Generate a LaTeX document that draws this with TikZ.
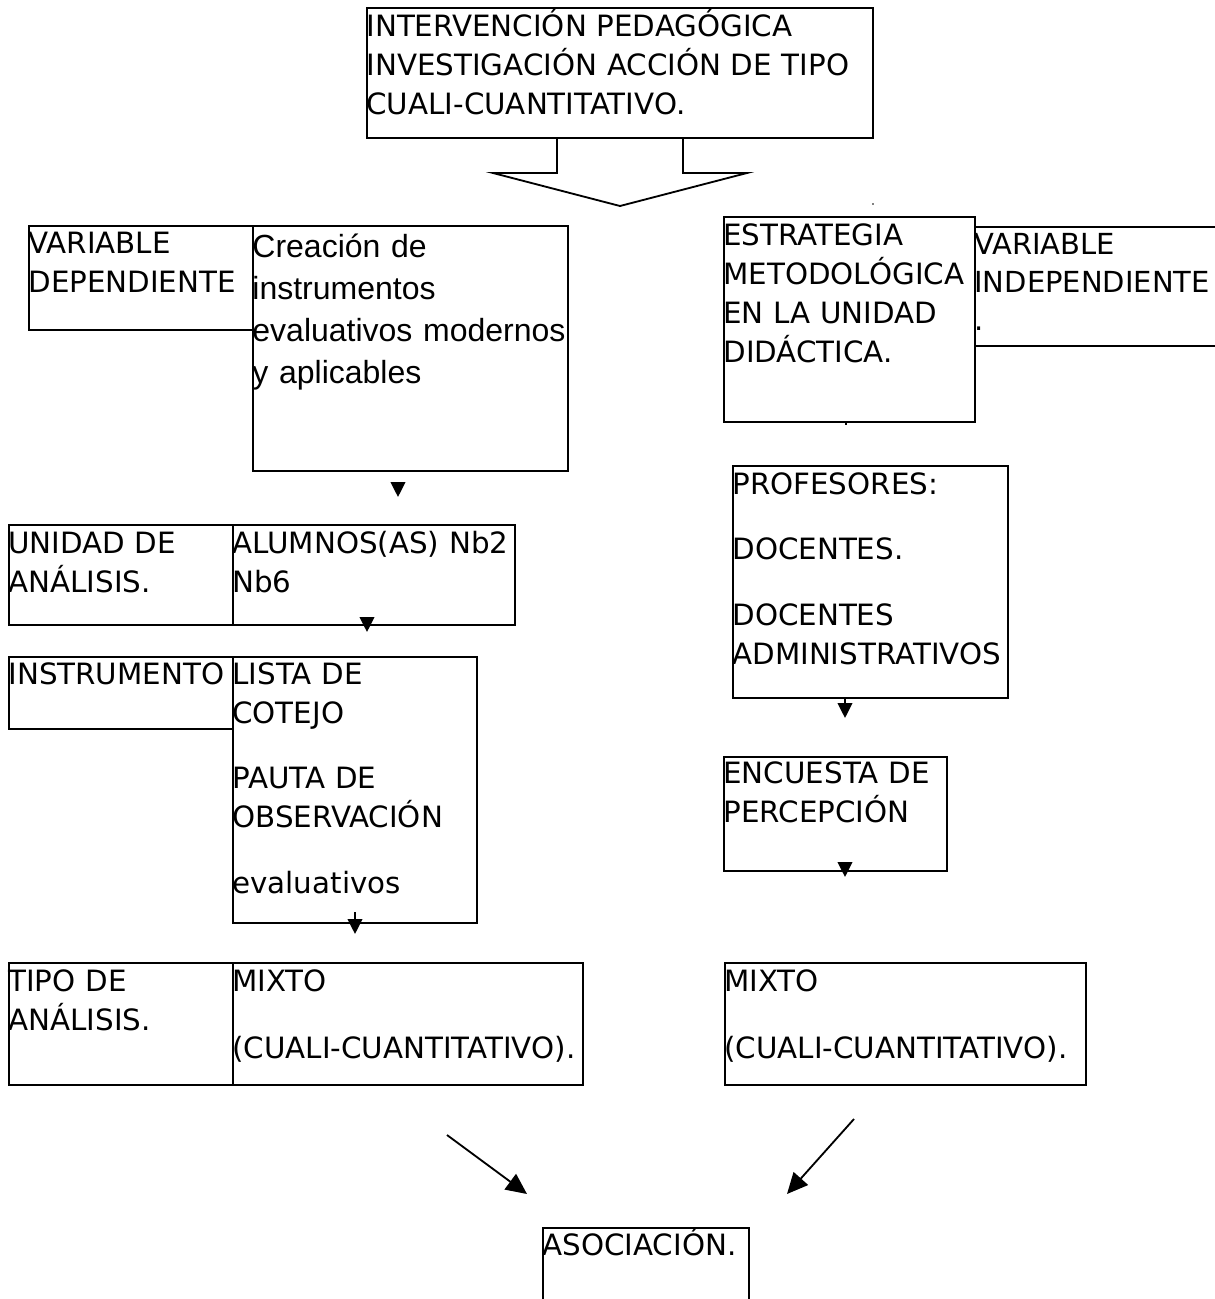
\documentclass[tikz,border=0pt]{standalone}
\usepackage{fontspec}
\setmainfont{DejaVu Sans}
\newfontfamily\arialfont{Liberation Sans}
\usetikzlibrary{arrows.meta,calc,fit}

\begin{document}
\begin{tikzpicture}[x=0.6pt,y=-0.6pt,
    caja/.style={draw,line width=1.1pt,inner sep=0pt},
    texto/.style={anchor=base west,inner sep=0pt,text width=20cm,align=left,
      font=\fontsize{17.6}{23.4}\selectfont},
    flecha/.style={line width=1.1pt,-{Triangle[length=9pt,width=8.8pt]}},
    diagonal/.style={line width=1.1pt,-{Triangle[length=12.5pt,width=11.5pt]}}]
    \useasboundingbox (0,0) rectangle (1214,1299);

    \node (intervencion) [caja, fit={(367,8) (873,138)}] {};
    \node (t-intervencion) [texto] at ($(intervencion.north west)+(0,29)$)
      {INTERVENCIÓN PEDAGÓGICA\\INVESTIGACIÓN ACCIÓN DE TIPO\\CUALI-CUANTITATIVO.};
    \draw[line width=1.1pt] (557,138) -- (557,173) -- (493,173) -- (620,206)
      -- (747,173) -- (683,173) -- (683,138);
    \fill (873,204) circle (0.8);

    \node (vardep) [caja, fit={(29,226) (253,330)}] {};
    \node (creacion) [caja, fit={(253,226) (568,471)}] {};
    \node (t-vardep) [texto] at ($(vardep.north west)+(0,28)$) {VARIABLE\\DEPENDIENTE};
    \node (t-creacion) [texto, font=\arialfont\fontsize{19.2}{25.2}\selectfont]
      at ($(creacion.north west)+(0,32)$)
      {Creación de\\instrumentos\\evaluativos modernos\\y aplicables};

    \node (unidad) [caja, fit={(9,525) (233,625)}] {};
    \node (alumnos) [caja, fit={(233,525) (515,625)}] {};
    \node (t-unidad) [texto] at ($(unidad.north west)+(0,29)$) {UNIDAD DE\\ANÁLISIS.};
    \node (t-alumnos) [texto] at ($(alumnos.north west)+(0,29)$) {ALUMNOS(AS) Nb2\\Nb6};

    \node (instrumento) [caja, fit={(9,657) (233,729)}] {};
    \node (lista) [caja, fit={(233,657) (477,923)}] {};
    \node (t-instrumento) [texto] at ($(instrumento.north west)+(0,28)$) {INSTRUMENTO};
    \node (t-lista) [texto] at ($(lista.north west)+(0,28)$)
      {LISTA DE\\COTEJO\\[16pt]PAUTA DE\\OBSERVACIÓN\\[16pt]evaluativos};

    \node (tipo) [caja, fit={(9,963) (233,1085)}] {};
    \node (mixtoizq) [caja, fit={(233,963) (583,1085)}] {};
    \node (t-tipo) [texto] at ($(tipo.north west)+(0,29)$) {TIPO DE\\ANÁLISIS.};
    \node (t-mixtoizq) [texto] at ($(mixtoizq.north west)+(0,29)$)
      {MIXTO\\[17pt](CUALI-CUANTITATIVO).};

    \node (varind) [caja, fit={(975,227) (1230,346)}] {};
    \node (estrategia) [caja, fit={(724,217) (975,422)}] {};
    \node (t-estrategia) [texto] at ($(estrategia.north west)+(0,29)$)
      {ESTRATEGIA\\METODOLÓGICA\\EN LA UNIDAD\\DIDÁCTICA.};
    \node (t-varind) [texto, font=\fontsize{17.4}{22.8}\selectfont]
      at ($(varind.north west)+(0,28)$) {VARIABLE\\INDEPENDIENTE\\.};

    \node (profesores) [caja, fit={(733,466) (1008,698)}] {};
    \node (t-profesores) [texto] at ($(profesores.north west)+(0,29)$)
      {PROFESORES:\\[16pt]DOCENTES.\\[16pt]DOCENTES\\ADMINISTRATIVOS};

    \node (encuesta) [caja, fit={(724,757) (947,871)}] {};
    \node (t-encuesta) [texto] at ($(encuesta.north west)+(0,27)$)
      {ENCUESTA DE\\PERCEPCIÓN};

    \node (mixtoder) [caja, fit={(725,963) (1086,1085)}] {};
    \node (t-mixtoder) [texto] at ($(mixtoder.north west)+(0,29)$)
      {MIXTO\\[17pt](CUALI-CUANTITATIVO).};

    \node (asociacion) [caja, fit={(543,1228) (749,1320)}] {};
    \node (t-asociacion) [texto] at ($(asociacion.north west)+(0,28)$) {ASOCIACIÓN.};

    \coordinate (f1a) at (398,482);
    \coordinate (f1b) at (398,497);
    \coordinate (f2a) at (367,617);
    \coordinate (f2b) at (367,632);
    \coordinate (f3a) at (355,912);
    \coordinate (f3b) at (355,934);
    \coordinate (f4a) at (845,698);
    \coordinate (f4b) at (845,718);
    \coordinate (f5a) at (845,863);
    \coordinate (f5b) at (845,877);
    \coordinate (f6a) at (846,422);
    \coordinate (f6b) at (846,425);
    \coordinate (d1a) at (447,1135);
    \coordinate (d1b) at (527,1194);
    \coordinate (d2a) at (854,1119);
    \coordinate (d2b) at (787,1194);

    \draw[flecha] (f1a) -- (f1b);
    \draw[flecha] (f2a) -- (f2b);
    \draw[flecha] (f3a) -- (f3b);
    \draw[flecha] (f4a) -- (f4b);
    \draw[flecha] (f5a) -- (f5b);
    \draw[line width=1.1pt] (f6a) -- (f6b);
    \draw[diagonal] (d1a) -- (d1b);
    \draw[diagonal] (d2a) -- (d2b);
\end{tikzpicture}
\end{document}
